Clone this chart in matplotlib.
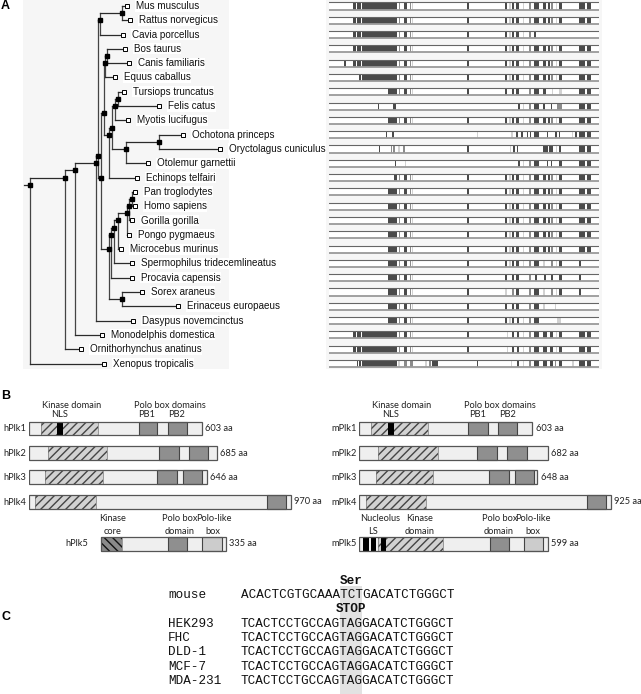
import re
import matplotlib
matplotlib.use("Agg")
import matplotlib.pyplot as plt
from matplotlib.patches import Rectangle

W, H = 641, 694
plt.rcParams["hatch.linewidth"] = 1.0

# ---------------- panel A data ----------------
# tree with branch lengths (arbitrary units)
tree_newick = (
    "((((("
    "((Mus_musculus:5,Rattus_norvegicus:8):22,Cavia_porcellus:23):2,"
    "("
    "(((Bos_taurus:18,Canis_familiaris:22):2,Equus_caballus:10):1,"
    "((((Tursiops_truncatus:6,Felis_catus:41):3,Myotis_lucifugus:13):3,"
    "((Ochotona_princeps:24,Oryctolagus_cuniculus:61):33,Otolemur_garnettii:22):14):3,"
    "Echinops_telfairi:28):5):3,"
    "(((((((Pan_troglodytes:3,Homo_sapiens:3):3,Gorilla_gorilla:3):2,Pongo_pygmaeus:2):9,"
    "Microcebus_murinus:3):4,Spermophilus_tridecemlineatus:18):3,Procavia_capensis:21):2,"
    "(Sorex_araneus:20,Erinaceus_europaeus:56):13):8"
    "):3"
    "):2,"
    "Dasypus_novemcinctus:37):21,"
    "Monodelphis_domestica:27):10,"
    "Ornithorhynchus_anatinus:16):35,"
    "Xenopus_tropicalis:74):6;"
)

# alignment: conserved blocks per species (alignment columns, d/m/l = dark/mid/light)
aln_len = 810
N_LONG = "73-81d 85-96d 99-205d "
N_SHORT = "178-205d "
MID = "210-214m 226-235d 243-246m 250-253l 363-364l 415-419d "
C_FULL = ("528-535d 541-545l 549-554d 561-569d 581-584l 601-606m 615-629d 643-650d "
          "657-663d 667-671m 681-685l 691-699d 749-769d 775-785d")
C_SHORT = ("528-535d 541-545l 549-554d 561-569d 581-584l 601-606m 615-629d 643-647l "
           "667-671m 681-685l 691-699d 749-755d")
aln_rows = [
    N_LONG + MID + C_FULL,                                   # Mus
    N_LONG + MID + C_FULL,                                   # Rattus
    N_LONG + MID + "528-535d 541-545l 549-554d 561-569d 581-584l 601-606m 615-621d",
    N_LONG + MID + C_FULL,                                   # Bos
    "46-52d " + N_LONG + MID + C_FULL,                       # Canis
    "91-96d 99-205d " + MID + C_FULL,                        # Equus
    N_SHORT + MID + "528-535d 549-554d 561-569d 601-606m 615-629d 643-650d "
    "669-671l 691-699l 749-769d 775-785d",                   # Tursiops
    "148-151d 193-201d 568-573d 581-584l 601-606m 615-629d 643-647d 665-669d "
    "685-699m 749-769d 775-785d",                            # Felis
    N_SHORT + MID + C_FULL,                                  # Myotis
    "171-175d 189-195d 445-446l 545-553l 561-568d 577-581d 593-597d 603-607d "
    "615-629d 653-657d 679-683d 689-693d 729-733l 739-745d 749-769d 775-785d",
    "149-153d 185-189m 193-199m 208-213l 221-227m 415-419d 543-547l 553-557d "
    "563-568d 643-657d 661-671d 681-685l 691-697d 749-769d 775-785d",
    "197-201d 227-231l 568-573d 581-584l 601-606m 615-629d 653-657d 665-669d "
    "691-699d 749-769d 775-785d",                            # Otolemur
    "196-205d " + MID + C_FULL,                              # Echinops
    N_SHORT + MID + C_FULL,                                  # Pan
    N_SHORT + MID + C_FULL,                                  # Homo
    N_SHORT + MID + C_FULL,                                  # Gorilla
    N_SHORT + MID + C_FULL,                                  # Pongo
    N_SHORT + MID + C_FULL,                                  # Microcebus
    N_SHORT + MID + C_SHORT,                                 # Spermophilus
    N_SHORT + MID + "528-535d 549-554d 561-569d 601-606m 619-623d 646-650d "
    "665-673d 691-699d 749-755d",                            # Procavia
    N_SHORT + MID + "528-533l 549-554m 561-569d 601-606m 615-629d 643-647l "
    "667-671m 681-685l 691-699d 749-755d",                   # Sorex
    N_SHORT + MID + "528-535d 549-554d 561-569d 601-606m 615-629d 643-647l 677-681l",
    N_SHORT + MID + "528-535d 541-545l 549-554d 563-569d 581-584l 601-606m "
    "615-629d 685-697l",                                     # Dasypus
    N_LONG + MID + "533-538l 549-554d 563-569d 581-584l 601-606m 615-629d "
    "643-655d 663-673d 681-685l 691-699d 749-769d 775-785d",  # Monodelphis
    N_LONG + MID + "533-538l 549-554d 563-569d 581-584l 601-606m 615-629d "
    "643-655d 663-673d 681-685l 691-699d 749-769d 775-785d",  # Ornithorhynchus
    "83-86d 91-96d 99-205d 208-213l 226-235m 243-253m 288-293l 301-305m 308-328d "
    "443-446d 545-549l 563-569d 581-584l 601-605m 615-629d 643-655d 663-671d "
    "677-681m 691-699d 729-735l 749-769d 775-785d",          # Xenopus
]

# ---------------- panel B data (diagram units along each bar) ----------------
h_names = ["hPlk1", "hPlk2", "hPlk3", "hPlk4", "hPlk5"]
h_sizes = ["603 aa", "685 aa", "646 aa", "970 aa", "335 aa"]
h_extent = [(0, 640), (0, 695), (0, 658), (0, 970), (267, 729)]
h_kinase = [(44, 257), (71, 290), (59, 275), (22, 248), (267, 343)]
h_black = [[(105, 127)], [], [], [], []]
h_polo = [[(406, 475), (516, 586)], [(483, 556), (594, 664)],
          [(475, 547), (571, 642)], [(880, 952)], [(516, 586)]]
h_pololike = [None, None, None, None, (642, 714)]

m_names = ["mPlk1", "mPlk2", "mPlk3", "mPlk4", "mPlk5"]
m_sizes = ["603 aa", "682 aa", "648 aa", "925 aa", "599 aa"]
m_extent = [(0, 642), (0, 699), (0, 660), (0, 933), (0, 699)]
m_kinase = [(44, 257), (71, 294), (63, 275), (25, 247), (71, 312)]
m_black = [[(106, 129)], [], [], [], [(16, 37), (43, 62), (81, 99)]]
m_polo = [[(405, 477), (516, 586)], [(438, 510), (549, 621)],
          [(483, 554), (578, 649)], [(843, 915)], [(485, 556)]]
m_pololike = [None, None, None, None, (611, 683)]

# ---------------- panel C data ----------------
seq_labels = ["mouse", "HEK293", "FHC", "DLD-1", "MCF-7", "MDA-231"]
seq_rows = ["ACACTCGTGCAAATCTGACATCTGGGCT"] + ["TCACTCCTGCCAGTAGGACATCTGGGCT"] * 5
codon_start = 13
codon_names = ["Ser", "STOP"]


def parse_newick(s):
    pos = 0

    def node():
        nonlocal pos
        n = {"children": [], "name": "", "bl": 0.0}
        if s[pos] == "(":
            pos += 1
            n["children"].append(node())
            while s[pos] == ",":
                pos += 1
                n["children"].append(node())
            pos += 1
        m = re.match(r"([^:,();]*)(?::([0-9.]+))?", s[pos:])
        n["name"] = m.group(1)
        if m.group(2):
            n["bl"] = float(m.group(2))
        pos += m.end()
        return n
    return node()


def px_axes(fig, x0, y0, w, h):
    ax = fig.add_axes([x0 / W, 1 - (y0 + h) / H, w / W, h / H])
    ax.patch.set_visible(False)
    ax.axis("off")
    return ax


fig = plt.figure(figsize=(W / 100, H / 100), dpi=100)
fig.patch.set_facecolor("white")

row_h = 14.3
top = -1.15

# ---------- tree ----------
root = parse_newick(tree_newick)
leaves = []


def layout(n, depth):
    n["x"] = depth + n["bl"]
    if not n["children"]:
        n["y"] = len(leaves)
        n["lo"] = n["hi"] = n["y"]
        leaves.append(n)
        return
    for c in n["children"]:
        layout(c, n["x"])
    n["lo"] = min(c["lo"] for c in n["children"])
    n["hi"] = max(c["hi"] for c in n["children"])
    n["y"] = (n["lo"] + n["hi"]) / 2


layout(root, 0)
nrows = len(leaves)

ax_t = px_axes(fig, 0, top, 330, nrows * row_h)
ax_t.set_xlim(-24, 306)
ax_t.set_ylim(nrows - 0.5, -0.5)
ax_t.add_patch(Rectangle((-1, -0.5), 206, nrows - 0.15, fc="#f6f6f6", ec="none", zorder=0))

lc = "#2a2a2a"


def draw(n):
    if n["children"]:
        ys = [c["y"] for c in n["children"]]
        ax_t.plot([n["x"], n["x"]], [min(ys), max(ys)], color="#444", lw=0.9, zorder=2)
        for c in n["children"]:
            ax_t.plot([n["x"], c["x"]], [c["y"], c["y"]], color=lc, lw=0.9, zorder=2)
            draw(c)
        ax_t.plot(n["x"], n["y"], "s", color="black", ms=3.0, zorder=4)
    else:
        ax_t.plot(n["x"], n["y"], "s", mfc="white", mec="black", mew=0.7, ms=3.2, zorder=4)
        ax_t.annotate(n["name"].replace("_", " "), (n["x"], n["y"]), xytext=(6.3, 0),
                      textcoords="offset points", ha="left", va="center",
                      fontsize=7.1, family="Liberation Sans", color="#111",
                      bbox=dict(fc="white", ec="none", pad=0.4), zorder=3)


ax_t.plot([0, root["x"]], [root["y"], root["y"]], color=lc, lw=0.9)
draw(root)

# ---------- alignment ----------
ax_a = px_axes(fig, 329, top, 270, nrows * row_h)
ax_a.set_xlim(0, aln_len)
ax_a.set_ylim(nrows - 0.5, -0.5)
ax_a.add_patch(Rectangle((-10, -0.5), aln_len + 18, nrows - 0.1, fc="#f6f6f6", ec="none",
                         zorder=0, clip_on=False))
shade = {"d": "#4a4a4a", "m": "#8c8c8c", "l": "#d2d2d2"}
hh = 0.25
for i, row in enumerate(aln_rows):
    ax_a.add_patch(Rectangle((0, i - hh), aln_len, 2 * hh, fc="white", ec="none", zorder=1))
    for tok in row.split():
        a, b, s = re.match(r"(\d+)-(\d+)([dml])", tok).groups()
        ax_a.add_patch(Rectangle((int(a), i - hh), int(b) - int(a), 2 * hh,
                                 fc=shade[s], ec="none", zorder=2))
    ax_a.plot([0, aln_len], [i - hh, i - hh], color="#666", lw=0.8, zorder=3)
    ax_a.plot([0, aln_len], [i + hh, i + hh], color="#9a9a9a", lw=1.3, zorder=3)

# ---------- overlay for labels ----------
ov = px_axes(fig, 0, 0, W, H)
ov.set_xlim(0, W)
ov.set_ylim(H, 0)
for lab, y in [("A", 6), ("B", 396), ("C", 617)]:
    ov.text(1, y, lab, fontsize=9, fontweight="bold", family="Liberation Sans",
            ha="left", va="center")

# ---------- panel B ----------
bfont = dict(family="Lato", fontsize=6.7, color="#222")
row_y = [428.3, 453, 477, 502, 544]
bar_h = 13.4
scale = 0.27  # px per diagram unit


def protein_panel(x0, names, sizes, extent, kinase, black, polo, pololike, lab_x, dark_last):
    ax = px_axes(fig, x0, 390, W - x0, 170)
    ax.set_xlim(0, (W - x0) / scale)
    ax.set_ylim(560, 390)
    for i in range(len(names)):
        y = row_y[i]
        a, b = extent[i]
        ax.add_patch(Rectangle((a, y - bar_h / 2), b - a, bar_h, fc="#efefef", ec="none", zorder=1))
        k0, k1 = kinase[i]
        if dark_last and i == len(names) - 1:
            ax.add_patch(Rectangle((k0, y - bar_h / 2), k1 - k0, bar_h, fc="#8a8a8a",
                                   ec="#111111", hatch="\\\\\\\\", lw=0, zorder=2))
        else:
            ax.add_patch(Rectangle((k0, y - bar_h / 2), k1 - k0, bar_h, fc="#d2d2d2",
                                   ec="#444444", hatch="////", lw=0, zorder=2))
        ax.add_patch(Rectangle((k0, y - bar_h / 2), k1 - k0, bar_h, fill=False,
                               ec="#777", lw=0.5, zorder=3))
        for c0, c1 in black[i]:
            ax.add_patch(Rectangle((c0, y - bar_h / 2), c1 - c0, bar_h, fc="black",
                                   ec="none", zorder=3))
        for p0, p1 in polo[i]:
            ax.add_patch(Rectangle((p0, y - bar_h / 2), p1 - p0, bar_h, fc="#8f8f8f",
                                   ec="#444", lw=0.8, zorder=3))
        if pololike[i]:
            p0, p1 = pololike[i]
            ax.add_patch(Rectangle((p0, y - bar_h / 2), p1 - p0, bar_h, fc="#cccccc",
                                   ec="#444", lw=0.8, zorder=3))
        ax.add_patch(Rectangle((a, y - bar_h / 2), b - a, bar_h, fill=False,
                               ec="#555", lw=0.9, zorder=4))
        ax.annotate(sizes[i], (b, y), xytext=(2.5, 0), textcoords="offset points",
                    ha="left", va="center", **bfont)
        ov.text(lab_x[i], y, names[i], ha="right", va="center", **bfont)


protein_panel(29, h_names, h_sizes, h_extent, h_kinase, h_black, h_polo, h_pololike,
              [26.5, 26.5, 26.5, 26.5, 88], True)
protein_panel(359, m_names, m_sizes, m_extent, m_kinase, m_black, m_polo, m_pololike,
              [356.5] * 5, False)

b_labels = [
    ("Kinase domain", 71.7, 405), ("NLS", 60, 414), ("Polo box domains", 170, 405),
    ("PB1", 147, 414), ("PB2", 176.7, 414),
    ("Kinase domain", 401.7, 405), ("NLS", 390.7, 414), ("Polo box domains", 500, 405),
    ("PB1", 477.3, 414), ("PB2", 507.7, 414),
    ("Kinase", 113, 518.3), ("core", 113, 531), ("Polo box", 180, 518.3),
    ("domain", 180, 531), ("Polo-like", 214, 518.3), ("box", 212.7, 531),
    ("Nucleolus", 380, 518.3), ("LS", 373.3, 531), ("Kinase", 419.3, 518.3),
    ("domain", 419.3, 531), ("Polo box", 500, 518.3), ("domain", 499, 531),
    ("Polo-like", 533.3, 518.3), ("box", 532.7, 531),
]
for t, x, y in b_labels:
    ov.text(x, y, t, ha="center", va="center", **bfont)

# ---------- panel C ----------
cw = 7.6
ax_c = px_axes(fig, 150, 560, 330, 134)
ax_c.set_xlim((150 - 240.7) / cw, (480 - 240.7) / cw)
ax_c.set_ylim((694 - 595) / row_h, (560 - 595) / row_h)
ax_c.add_patch(Rectangle((codon_start, -0.63), 3, 8, fc="#e2e2e2", ec="none", zorder=0))
mono = dict(family="Liberation Mono", fontsize=9.1, color="#111")
seq_y = [0, 2, 3, 4, 5, 6]
for lab, seq, y in zip(seq_labels, seq_rows, seq_y):
    ax_c.text(-9.57, y, lab, ha="left", va="center", **mono)
    ax_c.text(0, y, seq, ha="left", va="center", **mono)
for name, y in zip(codon_names, [-1, 1]):
    ax_c.text(codon_start + 1.5, y, name, ha="center", va="center", fontweight="bold", **mono)

fig.savefig("out.png", dpi=100)
